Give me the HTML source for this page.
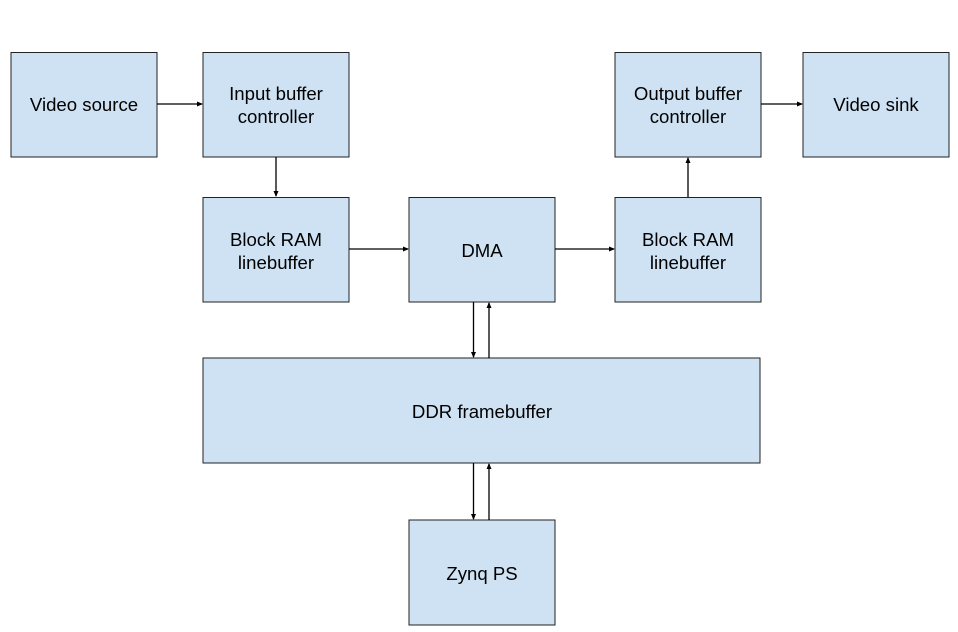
<!DOCTYPE html>
<html><head><style>body{margin:0;background:#fff}svg{display:block}text{font-family:"Liberation Sans",Arial,sans-serif;font-size:18.6px;fill:#000;text-anchor:middle}</style></head>
<body>
<svg width="958" height="632" viewBox="0 0 958 632">
<defs><marker id="a" markerWidth="6" markerHeight="6" refX="5" refY="3" orient="auto" markerUnits="userSpaceOnUse"><path d="M0,0.5 L6,3 L0,5.5z" fill="#000"/></marker></defs>
<g fill="#cfe2f3" stroke="#222" stroke-width="1">
<rect x="11" y="52.5" width="146" height="104.5"/>
<rect x="203" y="52.5" width="146" height="104.5"/>
<rect x="203" y="197.5" width="146" height="104.5"/>
<rect x="409" y="197.5" width="146" height="104.5"/>
<rect x="615" y="197.5" width="146" height="104.5"/>
<rect x="615" y="52.5" width="146" height="104.5"/>
<rect x="803" y="52.5" width="146" height="104.5"/>
<rect x="203" y="358" width="557" height="105"/>
<rect x="409" y="520" width="146" height="105"/>
</g>
<g stroke="#000" stroke-width="1.3" marker-end="url(#a)">
<line x1="157" y1="104" x2="202" y2="104"/>
<line x1="276" y1="157" x2="276" y2="196"/>
<line x1="349" y1="249" x2="408" y2="249"/>
<line x1="555" y1="249" x2="614" y2="249"/>
<line x1="688" y1="197" x2="688" y2="158"/>
<line x1="761" y1="104" x2="802" y2="104"/>
<line x1="473.5" y1="302" x2="473.5" y2="357"/>
<line x1="489" y1="358" x2="489" y2="303"/>
<line x1="473.5" y1="463" x2="473.5" y2="519"/>
<line x1="489" y1="520" x2="489" y2="464"/>
</g>
<text x="84" y="111">Video source</text>
<text x="276" y="100">Input buffer</text><text x="276" y="123">controller</text>
<text x="276" y="246">Block RAM</text><text x="276" y="269">linebuffer</text>
<text x="482" y="257">DMA</text>
<text x="688" y="246">Block RAM</text><text x="688" y="269">linebuffer</text>
<text x="688" y="100">Output buffer</text><text x="688" y="123">controller</text>
<text x="876" y="111">Video sink</text>
<text x="482" y="418">DDR framebuffer</text>
<text x="482" y="580">Zynq PS</text>
</svg>
</body></html>
